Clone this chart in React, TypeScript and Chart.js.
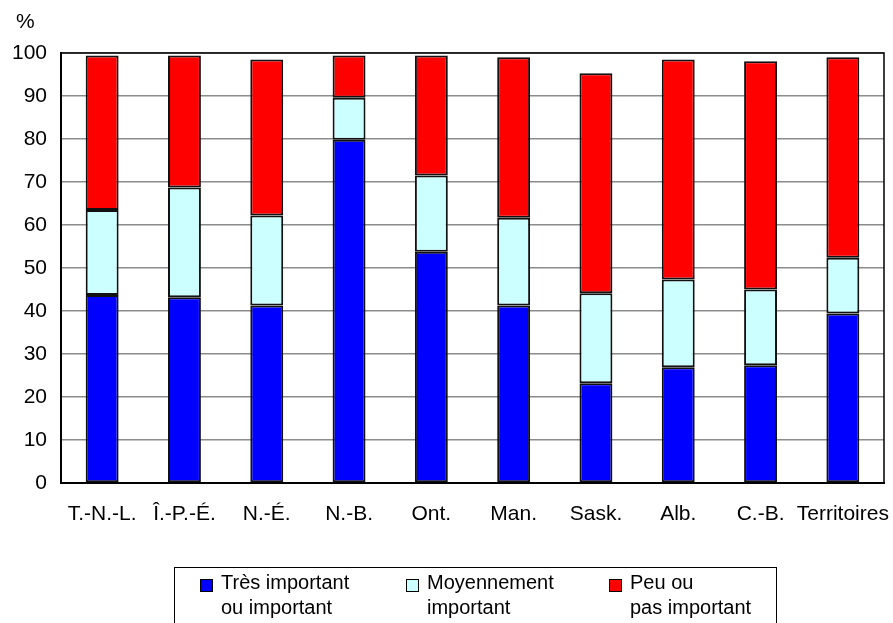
import React, { useEffect, useRef } from "react";
import { Chart, registerables } from "chart.js";

Chart.register(...registerables);

const categories = ["T.-N.-L.", "Î.-P.-É.", "N.-É.", "N.-B.", "Ont.", "Man.", "Sask.", "Alb.", "C.-B.", "Territoires"];
const tresImportant = [43.7, 43.2, 41.3, 79.8, 53.8, 41.3, 23.2, 26.9, 27.4, 39.4];
const moyennement = [19.8, 25.5, 20.9, 9.8, 17.7, 20.4, 20.9, 20.4, 17.6, 13.0];
const peuOuPas = [35.9, 30.7, 36.3, 9.8, 27.9, 37.3, 51.2, 51.2, 53.1, 46.6];
const yTicks = [0, 10, 20, 30, 40, 50, 60, 70, 80, 90, 100];
const legendItems = [
  { lines: ["Très important", "ou important"], color: "#0000FF" },
  { lines: ["Moyennement", "important"], color: "#CCFFFF" },
  { lines: ["Peu ou", "pas important"], color: "#FF0000" },
];

const FONT = "'Liberation Sans', Arial, sans-serif";
const FS = 21;

const framePlugin = {
  id: "frame",
  afterDatasetsDraw(chart: any) {
    const { ctx, chartArea } = chart;
    ctx.save();
    ctx.strokeStyle = "#000";
    ctx.lineWidth = 1.5;
    ctx.strokeRect(chartArea.left, chartArea.top, chartArea.right - chartArea.left, chartArea.bottom - chartArea.top);
    ctx.lineWidth = 2;
    ctx.beginPath();
    ctx.moveTo(chartArea.left, chartArea.top);
    ctx.lineTo(chartArea.left, chartArea.bottom);
    ctx.lineTo(chartArea.right, chartArea.bottom);
    ctx.stroke();
    ctx.fillStyle = "#000";
    ctx.font = FS + "px " + FONT;
    ctx.textBaseline = "alphabetic";
    ctx.textAlign = "left";
    ctx.fillText("%", 16, 28);
    ctx.restore();
  },
};

export default function App() {
  const ref = useRef<HTMLCanvasElement>(null);
  useEffect(() => {
    if (!ref.current) return;
    const chart = new Chart(ref.current, {
      type: "bar",
      data: {
        labels: categories,
        datasets: [
          { label: "Très important ou important", data: tresImportant, backgroundColor: "#0000FF" },
          { label: "Moyennement important", data: moyennement, backgroundColor: "#CCFFFF" },
          { label: "Peu ou pas important", data: peuOuPas, backgroundColor: "#FF0000" },
        ].map((d) => ({
          ...d,
          borderColor: "#111",
          borderWidth: 2,
          borderSkipped: false,
          categoryPercentage: 1,
          barPercentage: 0.4,
        })),
      },
      options: {
        animation: false,
        responsive: false,
        maintainAspectRatio: false,
        layout: { padding: { left: 0, right: 9, top: 53, bottom: 100 } },
        plugins: { legend: { display: false }, tooltip: { enabled: false } },
        scales: {
          x: {
            stacked: true,
            grid: { display: false, drawTicks: false },
            border: { display: true, color: "#000", width: 2 },
            ticks: { color: "#000", font: { family: FONT, size: FS }, padding: 19, maxRotation: 0, autoSkip: false },
            afterFit: (s: any) => { s.height = 40; s.paddingLeft = 0; s.paddingRight = 0; },
          },
          y: {
            stacked: true,
            min: 0,
            max: 100,
            afterBuildTicks: (s: any) => { s.ticks = yTicks.map((v) => ({ value: v })); },
            grid: { color: "#8c8c8c", lineWidth: 1.5, drawTicks: false },
            border: { display: true, color: "#000", width: 2 },
            ticks: { color: "#000", font: { family: FONT, size: FS }, padding: 14 },
            afterFit: (s: any) => { s.width = 61; s.paddingTop = 0; s.paddingBottom = 0; },
          },
        },
      },
      plugins: [framePlugin],
    });
    return () => chart.destroy();
  }, []);

  const itemLeft = [25, 231, 434];
  return (
    <div style={{ position: "fixed", left: 0, top: 0, width: 893, height: 623, overflow: "hidden", background: "#fff" }}>
      <canvas ref={ref} width={893} height={623} style={{ display: "block" }} />
      <div
        style={{
          position: "absolute",
          left: 174,
          top: 567,
          width: 603,
          height: 80,
          border: "1.5px solid #000",
          boxSizing: "border-box",
          fontFamily: FONT,
          fontSize: 20,
          color: "#000",
        }}
      >
        {legendItems.map((it, i) => (
          <div key={i} style={{ position: "absolute", left: itemLeft[i], top: 2 }}>
            <div style={{ position: "absolute", left: 0, top: 9, width: 11, height: 11, background: it.color, border: "1.5px solid #000" }} />
            <div style={{ position: "absolute", left: 21, top: 0, lineHeight: "25px", whiteSpace: "nowrap" }}>
              {it.lines[0]}
              <br />
              {it.lines[1]}
            </div>
          </div>
        ))}
      </div>
    </div>
  );
}
